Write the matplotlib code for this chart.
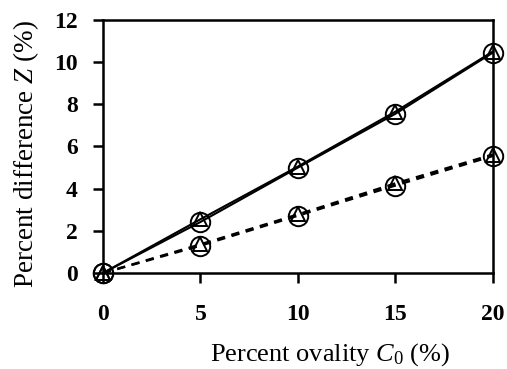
import matplotlib
matplotlib.use("Agg")
import matplotlib.pyplot as plt

ovality = [0, 5, 10, 15, 20]
solid_circle = [0, 2.42, 5.0, 7.55, 10.45]
solid_triangle = [0, 2.55, 5.05, 7.65, 10.5]
dashed_circle = [0, 1.3, 2.72, 4.15, 5.55]
dashed_triangle = [0, 1.36, 2.78, 4.25, 5.62]
xticks = [0, 5, 10, 15, 20]
yticks = [0, 2, 4, 6, 8, 10, 12]

plt.rcParams['font.family'] = ['Liberation Serif', 'DejaVu Serif']
plt.rcParams['mathtext.fontset'] = 'custom'
plt.rcParams['mathtext.it'] = 'Liberation Serif:italic'
plt.rcParams['mathtext.rm'] = 'Liberation Serif'

fig = plt.figure(figsize=(5.07, 3.69), dpi=100)
ax = fig.add_axes([0.203, 0.260, 0.769, 0.686])

common = dict(color='black', markerfacecolor='none', markeredgecolor='black',
              clip_on=False, zorder=3)
ax.plot(ovality, solid_circle, '-', lw=1.5, marker='o', ms=14, mew=1.4, **common)
ax.plot(ovality, solid_triangle, '-', lw=1.5, marker='^', ms=9.5, mew=1.4, **common)
ax.plot(ovality, dashed_circle, '--', lw=1.7, dashes=(3.5, 2.8), marker='o', ms=14, mew=1.4, **common)
ax.plot(ovality, dashed_triangle, '--', lw=1.7, dashes=(3.5, 2.8), marker='^', ms=9.5, mew=1.4, **common)

ax.set_xlim(0, 20)
ax.set_ylim(0, 12)
ax.set_xticks(xticks)
ax.set_yticks(yticks)
ax.set_xticklabels([str(t) for t in xticks], fontweight='bold', fontsize=17)
ax.set_yticklabels([str(t) for t in yticks], fontweight='bold', fontsize=17)
for s in ax.spines.values():
    s.set_linewidth(1.8)
ax.tick_params(direction='out', length=7, width=1.8)
ax.tick_params(axis='x', pad=15)
ax.tick_params(axis='y', pad=11)

ax.set_xlabel('Percent ovality $C_0$ (%)', fontsize=19)
ax.set_ylabel('Percent difference $Z$ (%)', fontsize=19.5)
ax.xaxis.set_label_coords(0.582, -0.27)
ax.yaxis.set_label_coords(-0.16, 0.47)

fig.savefig('out.png', dpi=100)
